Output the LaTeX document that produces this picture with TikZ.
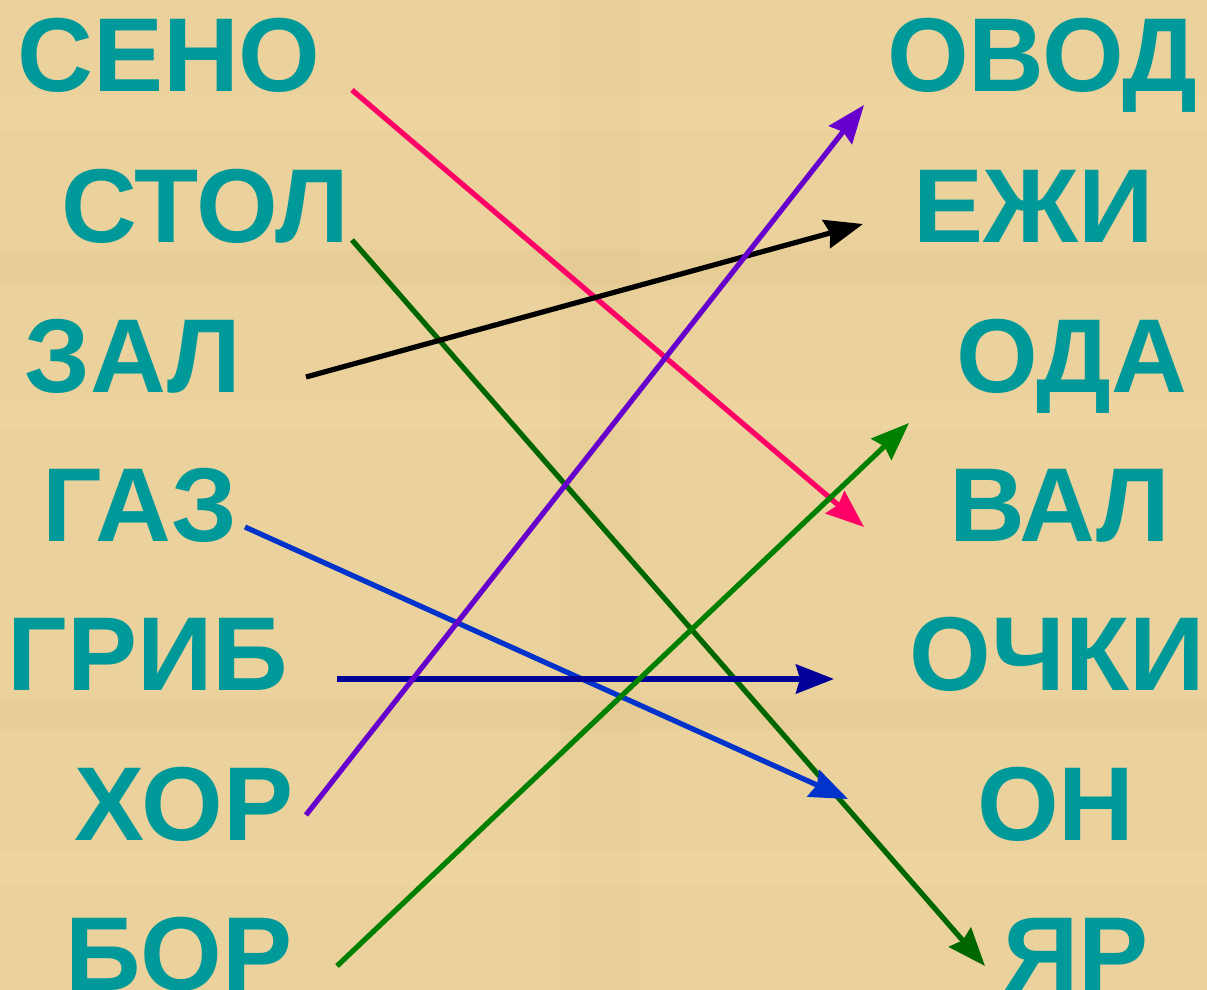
\documentclass[tikz,border=0pt]{standalone}
\usepackage{fontspec}
\setmainfont{Liberation Sans}
\usepackage{xcolor}
\definecolor{wordteal}{HTML}{009999}
\definecolor{paperbg}{HTML}{EBD29C}
\definecolor{paperlt}{HTML}{F5DEA8}
\definecolor{paperdk}{HTML}{D9BC80}
\definecolor{lnpink}{HTML}{FF0066}
\definecolor{lnpurple}{HTML}{6600CC}
\definecolor{lnnavy}{HTML}{000099}
\definecolor{lnblue}{HTML}{0033CC}
\definecolor{lngreen}{HTML}{008000}
\definecolor{lndkgreen}{HTML}{006600}
\usepackage{tikz}
\usetikzlibrary{arrows.meta,positioning}
\tikzset{
  wordlbl/.style={anchor=base,inner sep=0pt,text=wordteal,font=\fontsize{105}{110}\selectfont\bfseries},
  matchflow/.style={-{Stealth[length=38pt,width=29pt,inset=4pt]},line width=5.2pt},
}

\begin{document}
\begin{tikzpicture}[x=1pt,y=-1pt]
\useasboundingbox (0,0) rectangle (1207,990);
\fill[paperbg] (0,0) rectangle (1207,990);
\fill[paperlt,opacity=.3] (0,95) rectangle (1207,130);
\fill[paperdk,opacity=.2] (0,250) rectangle (1207,285);
\fill[paperlt,opacity=.3] (0,400) rectangle (1207,430);
\fill[paperdk,opacity=.2] (0,700) rectangle (1207,730);
\fill[paperlt,opacity=.3] (0,850) rectangle (1207,885);
\fill[paperdk,opacity=.12] (560,0) rectangle (640,990);

\node[wordlbl] (seno) at (169,92) {СЕНО};
\node[wordlbl] (stol) at (205,242) {СТОЛ};
\node[wordlbl] (zal) at (133,392) {ЗАЛ};
\node[wordlbl] (gaz) at (140,541) {ГАЗ};
\node[wordlbl] (grib) at (148,690) {ГРИБ};
\node[wordlbl] (khor) at (184,840) {ХОР};
\node[wordlbl] (bor) at (179,990) {БОР};

\node[wordlbl] (ovod) at (1042,92) {ОВОД};
\node[wordlbl] (ezhi) at (1034,242) {ЕЖИ};
\node[wordlbl] (oda) at (1072,392) {ОДА};
\node[wordlbl] (val) at (1060,541) {ВАЛ};
\node[wordlbl] (ochki) at (1057,690) {ОЧКИ};
\node[wordlbl] (on) at (1056,840) {ОН};
\node[wordlbl] (yar) at (1076,990) {ЯР};

\coordinate (seno-out) at (352,90);
\coordinate (stol-out) at (352,240);
\coordinate (zal-out) at (306,377);
\coordinate (gaz-out) at (245,527);
\coordinate (grib-out) at (337,679);
\coordinate (khor-out) at (306,815);
\coordinate (bor-out) at (337,966);
\coordinate (ovod-in) at (864,105);
\coordinate (ezhi-in) at (863,224);
\coordinate (oda-in) at (909,423);
\coordinate (val-in) at (864,527);
\coordinate (ochki-in) at (834,679);
\coordinate (on-in) at (848,799);
\coordinate (yar-in) at (985,966);

\draw[matchflow,lnpink] (seno-out) -- (val-in);
\draw[matchflow,lndkgreen] (stol-out) -- (yar-in);
\draw[matchflow,black] (zal-out) -- (ezhi-in);
\draw[matchflow,lnblue] (gaz-out) -- (on-in);
\draw[matchflow,lnnavy] (grib-out) -- (ochki-in);
\draw[matchflow,lnpurple] (khor-out) -- (ovod-in);
\draw[matchflow,lngreen] (bor-out) -- (oda-in);
\end{tikzpicture}
\end{document}
